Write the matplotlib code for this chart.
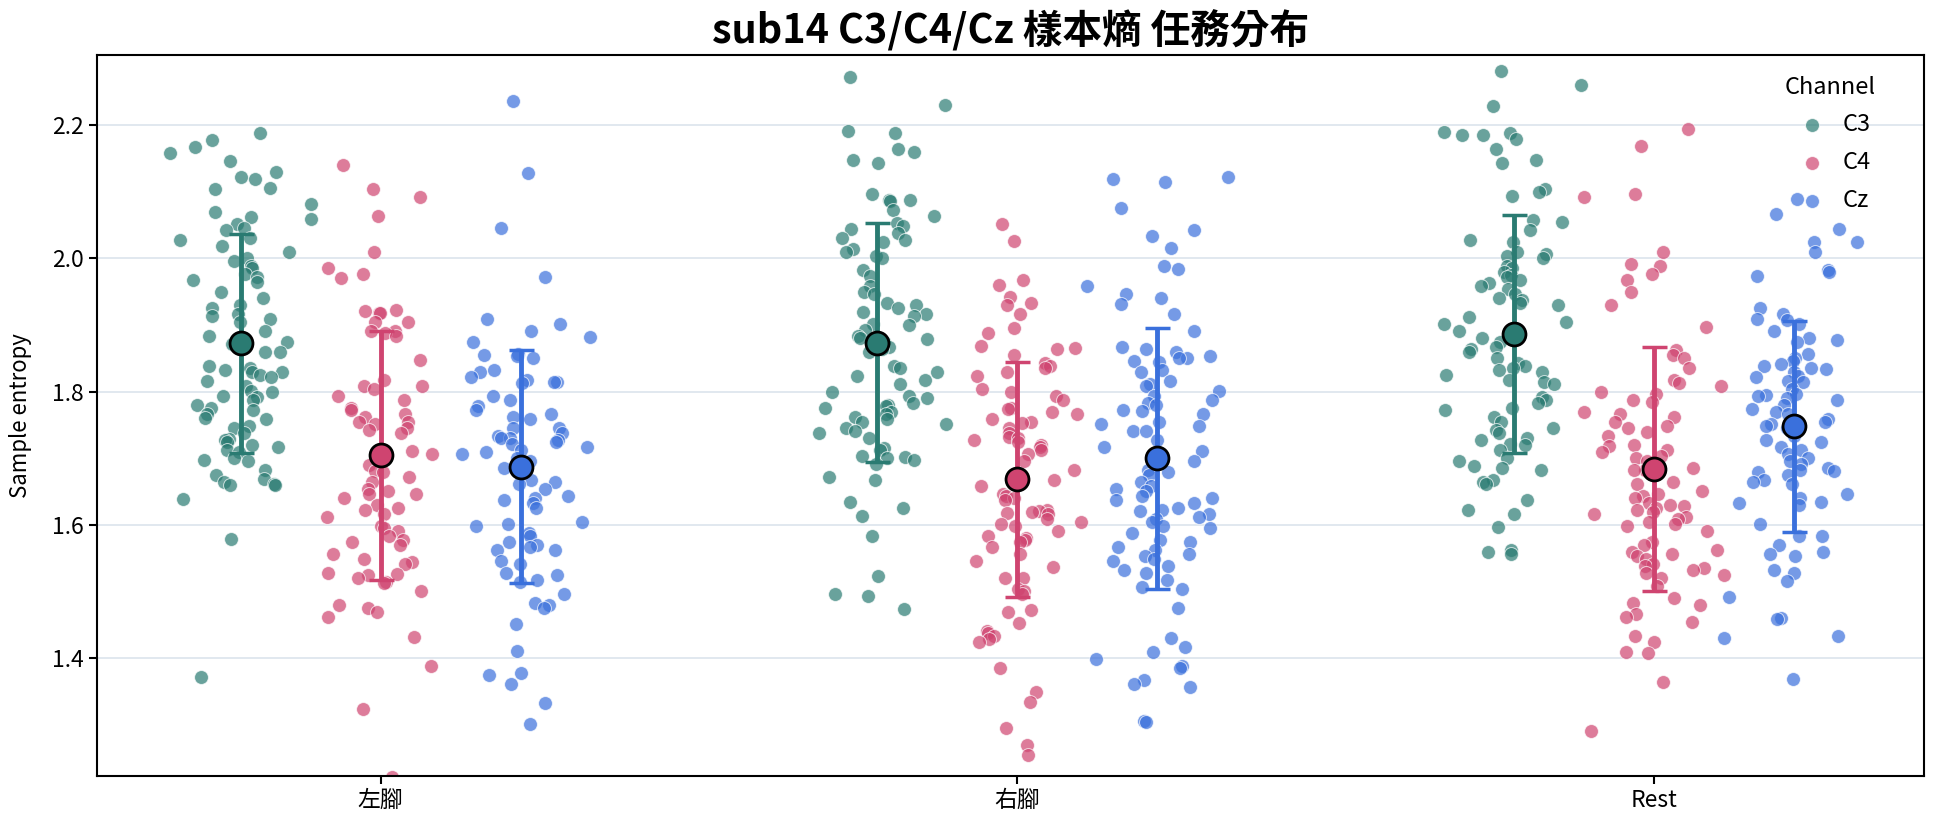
import matplotlib
matplotlib.use("Agg")
import matplotlib.pyplot as plt
import numpy as np

plt.rcParams['font.family'] = ['Noto Sans CJK TC', 'DejaVu Sans']

# tasks on the x axis, channels as hue
tasks = ['左腳', '右腳', 'Rest']
channels = ['C3', 'C4', 'Cz']
colors = {'C3': '#2a7b72', 'C4': '#cf4470', 'Cz': '#3a70dc'}

# sample entropy per trial
c3_left = [2.188, 2.178, 2.167, 2.158, 2.146, 2.130, 2.123, 2.120, 2.106, 2.104,
           2.081, 2.069, 2.062, 2.059, 2.051, 2.045, 2.042, 2.031, 2.028, 2.018,
           2.010, 2.000, 1.996, 1.989, 1.986, 1.977, 1.972, 1.968, 1.965, 1.949,
           1.940, 1.930, 1.926, 1.916, 1.914, 1.909, 1.905, 1.891, 1.884, 1.874,
           1.872, 1.860, 1.860, 1.839, 1.836, 1.832, 1.830, 1.829, 1.825, 1.822,
           1.816, 1.808, 1.801, 1.800, 1.794, 1.792, 1.787, 1.780, 1.776, 1.773,
           1.766, 1.760, 1.759, 1.748, 1.745, 1.738, 1.729, 1.727, 1.724, 1.720,
           1.717, 1.713, 1.710, 1.700, 1.697, 1.696, 1.682, 1.675, 1.669, 1.665,
           1.661, 1.660, 1.660, 1.639, 1.579, 1.372]
c4_left = [2.140, 2.104, 2.092, 2.064, 2.009, 1.986, 1.977, 1.970, 1.923, 1.921,
           1.918, 1.918, 1.905, 1.904, 1.891, 1.891, 1.888, 1.883, 1.848, 1.818,
           1.809, 1.808, 1.804, 1.794, 1.788, 1.776, 1.773, 1.766, 1.762, 1.755,
           1.755, 1.752, 1.745, 1.743, 1.738, 1.711, 1.710, 1.706, 1.690, 1.681,
           1.679, 1.672, 1.665, 1.654, 1.651, 1.647, 1.646, 1.640, 1.630, 1.625,
           1.623, 1.616, 1.612, 1.598, 1.595, 1.591, 1.584, 1.577, 1.574, 1.570,
           1.556, 1.549, 1.544, 1.542, 1.528, 1.527, 1.525, 1.521, 1.514, 1.513,
           1.501, 1.480, 1.476, 1.469, 1.462, 1.432, 1.389, 1.324, 1.221]
cz_left = [2.237, 2.129, 2.045, 1.972, 1.909, 1.901, 1.891, 1.882, 1.875, 1.857,
           1.855, 1.853, 1.850, 1.832, 1.830, 1.822, 1.818, 1.815, 1.815, 1.813,
           1.794, 1.787, 1.778, 1.773, 1.767, 1.762, 1.759, 1.745, 1.745, 1.738,
           1.734, 1.731, 1.730, 1.727, 1.724, 1.722, 1.717, 1.713, 1.710, 1.706,
           1.700, 1.696, 1.686, 1.668, 1.665, 1.661, 1.654, 1.644, 1.640, 1.637,
           1.633, 1.626, 1.605, 1.602, 1.598, 1.588, 1.584, 1.574, 1.570, 1.567,
           1.563, 1.562, 1.546, 1.542, 1.528, 1.525, 1.518, 1.514, 1.497, 1.483,
           1.480, 1.476, 1.452, 1.411, 1.378, 1.375, 1.361, 1.333, 1.302]

c3_right = [2.272, 2.230, 2.192, 2.188, 2.164, 2.160, 2.148, 2.144, 2.097, 2.088,
            2.087, 2.086, 2.073, 2.064, 2.053, 2.049, 2.044, 2.038, 2.031, 2.028,
            2.024, 2.014, 2.010, 2.003, 2.000, 1.982, 1.974, 1.958, 1.949, 1.947,
            1.933, 1.930, 1.926, 1.919, 1.916, 1.914, 1.902, 1.900, 1.893, 1.884,
            1.881, 1.879, 1.874, 1.867, 1.864, 1.860, 1.839, 1.836, 1.830, 1.823,
            1.818, 1.811, 1.800, 1.794, 1.790, 1.783, 1.780, 1.778, 1.776, 1.769,
            1.766, 1.762, 1.759, 1.755, 1.752, 1.745, 1.741, 1.738, 1.730, 1.716,
            1.713, 1.703, 1.702, 1.700, 1.697, 1.692, 1.672, 1.668, 1.635, 1.626,
            1.614, 1.583, 1.523, 1.497, 1.494, 1.474]
c4_right = [2.051, 2.026, 1.967, 1.960, 1.942, 1.933, 1.930, 1.916, 1.895, 1.888,
            1.869, 1.865, 1.864, 1.855, 1.843, 1.839, 1.836, 1.830, 1.823, 1.804,
            1.800, 1.793, 1.788, 1.776, 1.774, 1.769, 1.766, 1.759, 1.755, 1.753,
            1.745, 1.738, 1.732, 1.731, 1.727, 1.724, 1.720, 1.717, 1.713, 1.706,
            1.696, 1.682, 1.675, 1.668, 1.667, 1.665, 1.658, 1.647, 1.644, 1.640,
            1.637, 1.623, 1.621, 1.619, 1.618, 1.616, 1.609, 1.605, 1.602, 1.598,
            1.591, 1.584, 1.581, 1.577, 1.574, 1.567, 1.556, 1.546, 1.537, 1.521,
            1.520, 1.504, 1.501, 1.497, 1.473, 1.469, 1.453, 1.441, 1.438, 1.434,
            1.429, 1.424, 1.386, 1.350, 1.334, 1.296, 1.269, 1.254]
cz_right = [2.122, 2.120, 2.115, 2.076, 2.042, 2.033, 2.015, 1.989, 1.984, 1.958,
            1.947, 1.940, 1.932, 1.916, 1.891, 1.867, 1.864, 1.860, 1.853, 1.851,
            1.850, 1.846, 1.844, 1.832, 1.830, 1.816, 1.811, 1.808, 1.801, 1.794,
            1.787, 1.783, 1.780, 1.773, 1.771, 1.767, 1.755, 1.752, 1.748, 1.741,
            1.741, 1.727, 1.717, 1.711, 1.696, 1.683, 1.679, 1.675, 1.665, 1.658,
            1.654, 1.651, 1.644, 1.640, 1.637, 1.633, 1.626, 1.623, 1.621, 1.616,
            1.612, 1.609, 1.605, 1.598, 1.595, 1.588, 1.577, 1.574, 1.567, 1.563,
            1.556, 1.553, 1.549, 1.546, 1.539, 1.532, 1.528, 1.518, 1.507, 1.504,
            1.476, 1.431, 1.417, 1.410, 1.399, 1.389, 1.385, 1.368, 1.361, 1.357,
            1.306, 1.305]

c3_rest = [2.281, 2.261, 2.229, 2.190, 2.188, 2.186, 2.185, 2.179, 2.164, 2.148,
           2.144, 2.104, 2.099, 2.094, 2.058, 2.055, 2.042, 2.028, 2.024, 2.010,
           2.007, 2.003, 2.000, 1.989, 1.986, 1.979, 1.975, 1.972, 1.968, 1.963,
           1.958, 1.954, 1.947, 1.940, 1.937, 1.933, 1.930, 1.912, 1.905, 1.902,
           1.891, 1.884, 1.881, 1.874, 1.867, 1.864, 1.860, 1.850, 1.843, 1.839,
           1.836, 1.832, 1.830, 1.825, 1.818, 1.815, 1.811, 1.792, 1.787, 1.783,
           1.776, 1.773, 1.762, 1.755, 1.745, 1.743, 1.738, 1.731, 1.727, 1.722,
           1.720, 1.713, 1.700, 1.696, 1.689, 1.686, 1.683, 1.668, 1.665, 1.662,
           1.637, 1.623, 1.616, 1.597, 1.563, 1.560, 1.556]
c4_rest = [2.195, 2.169, 2.096, 2.092, 2.009, 1.991, 1.988, 1.977, 1.967, 1.949,
           1.930, 1.897, 1.862, 1.855, 1.850, 1.836, 1.818, 1.813, 1.808, 1.800,
           1.797, 1.787, 1.785, 1.769, 1.766, 1.762, 1.755, 1.748, 1.745, 1.739,
           1.734, 1.720, 1.718, 1.713, 1.710, 1.704, 1.700, 1.696, 1.686, 1.683,
           1.682, 1.679, 1.665, 1.661, 1.651, 1.647, 1.644, 1.640, 1.633, 1.630,
           1.628, 1.625, 1.623, 1.619, 1.616, 1.612, 1.609, 1.605, 1.602, 1.598,
           1.591, 1.574, 1.570, 1.563, 1.560, 1.556, 1.553, 1.549, 1.542, 1.539,
           1.535, 1.532, 1.528, 1.525, 1.521, 1.509, 1.490, 1.483, 1.480, 1.466,
           1.462, 1.455, 1.434, 1.424, 1.410, 1.408, 1.364, 1.291]
cz_rest = [2.089, 2.066, 2.044, 2.024, 2.024, 2.010, 1.982, 1.979, 1.974, 1.925,
           1.916, 1.909, 1.907, 1.902, 1.891, 1.881, 1.877, 1.874, 1.857, 1.850,
           1.846, 1.841, 1.839, 1.836, 1.834, 1.829, 1.823, 1.822, 1.816, 1.815,
           1.804, 1.797, 1.795, 1.794, 1.790, 1.787, 1.780, 1.774, 1.769, 1.766,
           1.759, 1.755, 1.752, 1.748, 1.745, 1.734, 1.727, 1.725, 1.717, 1.713,
           1.706, 1.700, 1.696, 1.692, 1.686, 1.682, 1.681, 1.679, 1.675, 1.668,
           1.665, 1.661, 1.647, 1.640, 1.635, 1.633, 1.630, 1.602, 1.584, 1.583,
           1.570, 1.560, 1.556, 1.553, 1.532, 1.528, 1.516, 1.492, 1.460, 1.459,
           1.434, 1.431, 1.369]

data = {
    ('左腳', 'C3'): c3_left, ('左腳', 'C4'): c4_left, ('左腳', 'Cz'): cz_left,
    ('右腳', 'C3'): c3_right, ('右腳', 'C4'): c4_right, ('右腳', 'Cz'): cz_right,
    ('Rest', 'C3'): c3_rest, ('Rest', 'C4'): c4_rest, ('Rest', 'Cz'): cz_rest,
}

offsets = {'C3': -0.22, 'C4': 0.0, 'Cz': 0.22}
rng = np.random.default_rng(14)  # strip jitter only

fig = plt.figure(figsize=(19.44, 8.27), dpi=100)
ax = fig.add_axes([0.0497, 0.0615, 0.9401, 0.8725])

for i, task in enumerate(tasks):
    for ch in channels:
        y = np.array(data[(task, ch)])
        jit = np.clip(rng.normal(0, 0.045, len(y)), -0.11, 0.11)
        x = i + offsets[ch] + jit
        ax.scatter(x, y, s=100, color=colors[ch], alpha=0.7,
                   edgecolor='white', linewidth=0.7, zorder=2,
                   label=ch if i == 0 else None)
        m, sd = y.mean(), y.std(ddof=1)
        ax.errorbar(i + offsets[ch], m, yerr=sd, color=colors[ch],
                    elinewidth=3.5, capsize=9, capthick=2.5, zorder=3)
        ax.plot(i + offsets[ch], m, 'o', ms=16.5, mfc=colors[ch],
                mec='black', mew=2, zorder=4)

ax.set_xticks(range(len(tasks)))
ax.set_xticklabels(tasks)
ax.set_xlim(-0.446, 2.424)
ax.set_ylim(1.223, 2.306)
ax.set_yticks([1.4, 1.6, 1.8, 2.0, 2.2])
ax.yaxis.grid(True, color='#dce4ec', linewidth=1.2)
ax.set_axisbelow(True)
ax.tick_params(labelsize=16.5, length=6, width=1.5)
for s in ax.spines.values():
    s.set_linewidth(1.5)
ax.set_ylabel('Sample entropy', fontsize=16, labelpad=14)
ax.set_title('sub14 C3/C4/Cz 樣本熵 任務分布', fontsize=28.5, fontweight='bold', pad=8)

leg = ax.legend(title='Channel', loc='upper right', bbox_to_anchor=(0.985, 1.0),
                frameon=False, fontsize=17, title_fontsize=17, markerscale=1.0,
                handletextpad=0.3, borderaxespad=0.5, labelspacing=0.62)

fig.savefig('out.png', dpi=100)
